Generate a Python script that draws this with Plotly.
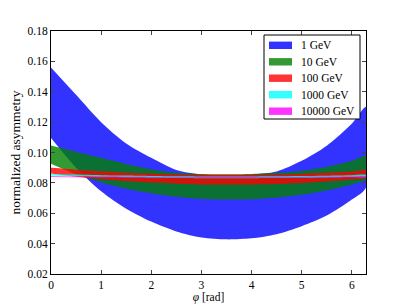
import plotly.graph_objects as go

# phi sample points [rad]
phi = [0.0, 0.5, 1.0, 1.5, 2.0, 2.5, 3.0, 3.5, 4.0, 4.5, 5.0, 5.5, 6.0, 6.2832]

# band limits (upper / lower edge)
upper_1 = [0.156, 0.138, 0.120, 0.106, 0.0965, 0.0885, 0.0855, 0.0850, 0.0855, 0.0875, 0.0945, 0.1045, 0.119, 0.130]
lower_1 = [0.1095, 0.090, 0.0745, 0.063, 0.0545, 0.048, 0.044, 0.0428, 0.0435, 0.0462, 0.0515, 0.0585, 0.0690, 0.0770]

upper_10 = [0.1046, 0.1005, 0.0965, 0.0925, 0.0890, 0.0866, 0.0858, 0.0857, 0.0859, 0.0866, 0.0880, 0.0905, 0.0945, 0.0975]
lower_10 = [0.0926, 0.0856, 0.0803, 0.0761, 0.0731, 0.0708, 0.0694, 0.0690, 0.0692, 0.0703, 0.0722, 0.0750, 0.0790, 0.0822]

upper_100 = [0.0899, 0.0887, 0.0876, 0.0867, 0.0860, 0.0855, 0.0853, 0.0853, 0.0853, 0.0855, 0.0859, 0.0866, 0.0875, 0.0882]
lower_100 = [0.0862, 0.0840, 0.0824, 0.0811, 0.0802, 0.0795, 0.0790, 0.0789, 0.0790, 0.0793, 0.0800, 0.0809, 0.0822, 0.0833]

upper_1000 = [0.0859, 0.0855, 0.0851, 0.0848, 0.0845, 0.0843, 0.0842, 0.0842, 0.0842, 0.0843, 0.0845, 0.0847, 0.0850, 0.0852]
lower_1000 = [0.0848, 0.0844, 0.0840, 0.0837, 0.0834, 0.0832, 0.0831, 0.0830, 0.0831, 0.0832, 0.0834, 0.0836, 0.0838, 0.0840]

upper_10000 = [0.0843, 0.0842, 0.0841, 0.0840, 0.0839, 0.0838, 0.0838, 0.0838, 0.0838, 0.0838, 0.0839, 0.0840, 0.0842, 0.0844]
lower_10000 = [0.0838, 0.0837, 0.0836, 0.0835, 0.0834, 0.0833, 0.0832, 0.0832, 0.0832, 0.0833, 0.0834, 0.0835, 0.0837, 0.0839]

labels = ["1 GeV", "10 GeV", "100 GeV", "1000 GeV", "10000 GeV"]
colors = ["rgba(0,0,255,0.8)", "rgba(0,128,0,0.8)", "rgba(255,0,0,0.8)",
          "rgba(0,255,255,0.8)", "rgba(255,0,255,0.8)"]
bands = [(upper_1, lower_1), (upper_10, lower_10), (upper_100, lower_100),
         (upper_1000, lower_1000), (upper_10000, lower_10000)]

x_ticks = [0, 1, 2, 3, 4, 5, 6]
y_ticks = [0.02, 0.04, 0.06, 0.08, 0.10, 0.12, 0.14, 0.16, 0.18]
y_ticktext = ["0.02", "0.04", "0.06", "0.08", "0.10", "0.12", "0.14", "0.16", "0.18"]

FONT = "Liberation Serif"
OFF = 8                      # page body margin of the html page
W, H = 407 - OFF, 305 - OFF
# plot area in page pixels: x 51..366, y 31..274
ML, MT = 51 - OFF, 31 - OFF
MR, MB = W - (366 - OFF), H - (274 - OFF)
PW, PH = W - ML - MR, H - MT - MB


def px(xp):
    """page pixel x -> paper x"""
    return (xp - OFF - ML) / PW


def py(yp):
    """page pixel y -> paper y"""
    return (H - MB - (yp - OFF)) / PH


fig = go.Figure()
for (up, lo), name, col in zip(bands, labels, colors):
    fig.add_trace(go.Scatter(
        x=phi + phi[::-1], y=up + lo[::-1],
        fill="toself", fillcolor=col,
        line=dict(width=0, shape="spline", smoothing=0.8),
        mode="lines", name=name, hoverinfo="skip", showlegend=False))

# legend drawn in matplotlib style (frame, patches, labels)
shapes = [dict(type="rect", xref="paper", yref="paper",
               x0=px(264), x1=px(360), y0=py(119), y1=py(35),
               line=dict(color="black", width=1), fillcolor="white", layer="above")]
annotations = []
row_y = [45.3, 61.8, 78.2, 94.7, 111.2]
for name, col, yc in zip(labels, colors, row_y):
    shapes.append(dict(type="rect", xref="paper", yref="paper",
                       x0=px(269), x1=px(292), y0=py(yc + 3.7), y1=py(yc - 3.7),
                       line=dict(width=0), fillcolor=col, layer="above"))
    annotations.append(dict(xref="paper", yref="paper", x=px(299), y=py(yc),
                            xanchor="left", yanchor="middle", showarrow=False,
                            text=name, font=dict(family=FONT, size=11.5, color="black")))

fig.update_layout(
    width=W, height=H,
    margin=dict(l=ML, r=MR, t=MT, b=MB, autoexpand=False),
    paper_bgcolor="white", plot_bgcolor="white",
    font=dict(family=FONT, size=11.5, color="black"),
    showlegend=False,
    shapes=shapes, annotations=annotations,
    xaxis=dict(range=[0, 6.2832], tickvals=x_ticks, ticks="inside", ticklen=4,
               showline=True, linecolor="black", linewidth=1, mirror="ticks",
               showgrid=False, zeroline=False, automargin=False,
               tickfont=dict(family=FONT, size=11.5),
               title=dict(text="<i>φ</i> [rad]", standoff=0,
                          font=dict(family=FONT, size=11.5))),
    yaxis=dict(range=[0.02, 0.18], tickvals=y_ticks, ticktext=y_ticktext,
               ticks="inside", ticklen=4,
               showline=True, linecolor="black", linewidth=1, mirror="ticks",
               showgrid=False, zeroline=False, automargin=False,
               tickfont=dict(family=FONT, size=11.5),
               title=dict(text="normalized asymmetry", standoff=5,
                          font=dict(family=FONT, size=13.5))),
)
fig.write_html("out.html")
